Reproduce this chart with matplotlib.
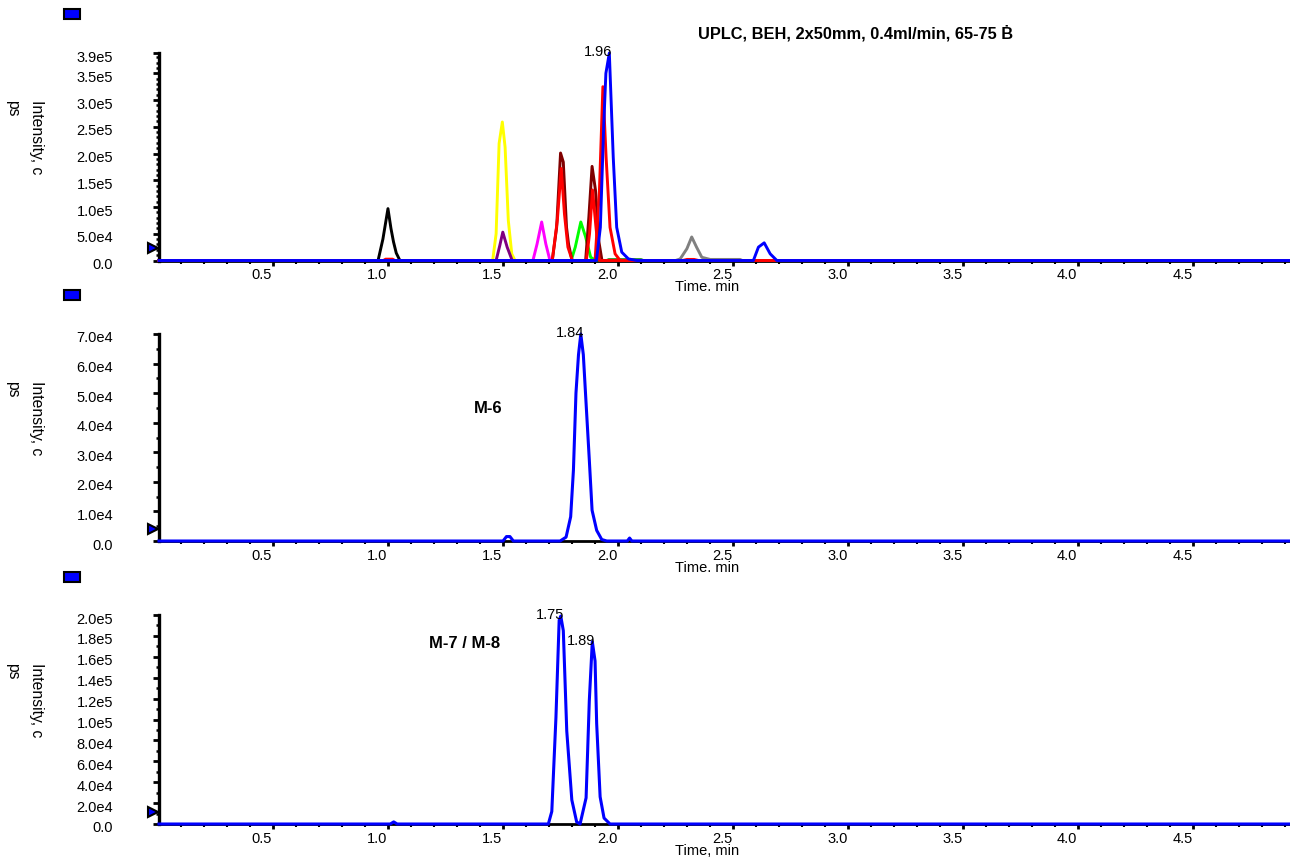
import numpy as np
import matplotlib
matplotlib.use("Agg")
import matplotlib.pyplot as plt
from matplotlib.patches import Rectangle
from matplotlib.ticker import MultipleLocator, FixedLocator, FuncFormatter
from matplotlib.transforms import ScaledTranslation, Bbox, TransformedBbox, blended_transform_factory

plt.rcParams["font.family"] = ["Liberation Sans", "DejaVu Sans"]

OUT_PNG = "out.png"

RUN_START = 0.005
RUN_END = 4.92

# --- panel 1: overlaid extracted ion chromatograms (time, min / intensity, cps)
BLACK_T = [0.957, 0.978, 1.000, 1.013, 1.024, 1.036, 1.052]
BLACK_I = [0, 4.0e4, 9.7e4, 6.0e4, 3.5e4, 1.4e4, 0]

YELLOW_T = [1.455, 1.470, 1.483, 1.497, 1.509, 1.523, 1.538, 1.552]
YELLOW_I = [0, 5.0e4, 2.19e5, 2.59e5, 2.12e5, 7.5e4, 1.25e4, 0]

PURPLE_T = [1.470, 1.486, 1.499, 1.518, 1.540]
PURPLE_I = [0, 2.8e4, 5.3e4, 2.5e4, 0]

MAGENTA_T = [1.630, 1.648, 1.668, 1.686, 1.704]
MAGENTA_I = [0, 3.1e4, 7.2e4, 3.1e4, 0]

MAROON_T = [1.714, 1.733, 1.750, 1.762, 1.776, 1.785, 1.800,
            1.859, 1.873, 1.887, 1.902, 1.916, 1.930]
MAROON_I = [0, 6.2e4, 2.01e5, 1.84e5, 6.2e4, 3.0e4, 0,
            0, 8.1e4, 1.76e5, 1.31e5, 3.7e4, 0]

RED_T = [0.980, 0.990, 1.020, 1.030,
         1.714, 1.736, 1.753, 1.767, 1.782, 1.801,
         1.862, 1.876, 1.889, 1.904, 1.919, 2.280, 2.300, 2.330, 2.350]
RED_I = [0, 2.5e3, 2.5e3, 0,
         0, 7.5e4, 1.72e5, 8.7e4, 2.5e4, 0,
         0, 5.0e4, 1.32e5, 6.2e4, 0, 0, 2.0e3, 2.0e3, 0]

RED_B_T = [1.900, 1.919, 1.934, 1.948, 1.965, 1.987, 2.009]
RED_B_I = [0, 1.31e5, 3.25e5, 1.93e5, 6.2e4, 1.25e4, 0]

GREEN_T = [1.796, 1.814, 1.838, 1.859, 1.881, 1.903]
GREEN_I = [0, 2.5e4, 7.2e4, 4.4e4, 6.0e3, 0]

DKGREEN_T = [1.950, 1.960, 2.100, 2.110]
DKGREEN_I = [0, 1.5e3, 1.5e3, 0]

GRAY_T = [2.250, 2.270, 2.299, 2.320, 2.341, 2.364, 2.400, 2.530, 2.540]
GRAY_I = [0, 3.0e3, 2.2e4, 4.4e4, 2.5e4, 6.0e3, 2.0e3, 2.0e3, 0]

BLUE_T = [1.906, 1.923, 1.938, 1.947, 1.962, 1.979, 1.994, 2.016, 2.045, 2.081,
          2.588, 2.610, 2.635, 2.661, 2.690]
BLUE_I = [0, 6.2e4, 2.56e5, 3.5e5, 3.88e5, 1.93e5, 6.2e4, 1.56e4, 3.0e3, 0,
          0, 2.5e4, 3.3e4, 1.25e4, 0]

# --- panel 2: M-6
M6_T = [1.500, 1.515, 1.530, 1.545,
        1.748, 1.774, 1.794, 1.806, 1.817, 1.828, 1.838, 1.849, 1.861, 1.875,
        1.887, 1.907, 1.929, 1.951, 2.040, 2.050, 2.060]
M6_I = [0, 1.5e3, 1.5e3, 0,
        0, 1.3e3, 8.2e3, 2.4e4, 5.0e4, 6.3e4, 7.0e4, 6.3e4, 4.65e4, 2.74e4,
        1.04e4, 3.6e3, 500, 0, 0, 1.0e3, 0]

# --- panel 3: M-7 / M-8
M78_T = [1.010, 1.025, 1.040,
         1.697, 1.712, 1.730, 1.744, 1.751, 1.762, 1.777, 1.799, 1.820, 1.835,
         1.839, 1.861, 1.875, 1.888, 1.900, 1.907, 1.922, 1.939, 1.965]
M78_I = [0, 2.0e3, 0,
         0, 1.2e4, 1.02e5, 1.95e5, 1.99e5, 1.85e5, 8.9e4, 2.3e4, 2.0e3, 0,
         4.0e3, 2.5e4, 1.18e5, 1.745e5, 1.56e5, 9.6e4, 2.6e4, 5.7e3, 0]

PANEL1_TRACES = [
    ("#808080", GRAY_T, GRAY_I),
    ("#000000", BLACK_T, BLACK_I),
    ("#FFFF00", YELLOW_T, YELLOW_I),
    ("#800080", PURPLE_T, PURPLE_I),
    ("#FF00FF", MAGENTA_T, MAGENTA_I),
    ("#00FF00", GREEN_T, GREEN_I),
    ("#008000", DKGREEN_T, DKGREEN_I),
    ("#800000", MAROON_T, MAROON_I),
    ("#FF0000", RED_T, RED_I),
    ("#FF0000", RED_B_T, RED_B_I),
    ("#0000FF", BLUE_T, BLUE_I),
]

Y_MAX = [3.88e5, 7.0e4, 2.0e5]
Y_MAJOR = [[0, 5e4, 1e5, 1.5e5, 2e5, 2.5e5, 3e5, 3.5e5, 3.88e5],
           [0, 1e4, 2e4, 3e4, 4e4, 5e4, 6e4, 7e4],
           [0, 2e4, 4e4, 6e4, 8e4, 1e5, 1.2e5, 1.4e5, 1.6e5, 1.8e5, 2e5]]
Y_MINOR = [1e4, 5e3, 1e4]

TITLE = "UPLC, BEH, 2x50mm, 0.4ml/min, 65-75 \u1e02"
PANEL_NAMES = [None, "M-6", "M-7 / M-8"]

W, H = 1290, 861
# axes boxes in pixels: left, top, right, bottom
AX_BOXES = [(159, 53, 1290, 260.5), (159, 334, 1290, 541), (159, 615, 1290, 824)]


def with_baseline(times, values):
    t = [RUN_START] + list(times) + [RUN_END]
    v = [0] + list(values) + [0]
    return np.array(t), np.array(v)


def sci_label(v, _pos=None):
    if v == 0:
        return "0.0"
    mant, exp = f"{v:.1e}".split("e")
    return f"{mant}e{int(exp)}"


def style_axes(ax, fig, ymax, majors, minor):
    ax.set_xlim(RUN_START, RUN_END)
    ax.set_ylim(0, ymax)
    for side in ("top", "right"):
        ax.spines[side].set_visible(False)
    ax.spines["left"].set_linewidth(2.4)
    ax.spines["bottom"].set_linewidth(2.0)

    ax.xaxis.set_major_locator(MultipleLocator(0.5))
    ax.xaxis.set_minor_locator(MultipleLocator(0.1))
    ax.xaxis.set_major_formatter(FuncFormatter(lambda v, p: f"{v:.1f}"))
    ax.yaxis.set_major_locator(FixedLocator(majors))
    ax.yaxis.set_minor_locator(MultipleLocator(minor))
    ax.yaxis.set_major_formatter(FuncFormatter(sci_label))

    ax.tick_params(axis="x", which="major", length=3.5, width=2, labelsize=10.5, pad=2)
    ax.tick_params(axis="x", which="minor", length=2, width=1.5)
    ax.tick_params(axis="y", which="major", length=4, width=2, labelsize=10.5, pad=29)
    ax.tick_params(axis="y", which="minor", length=2.5, width=1.8)

    shift_x = ScaledTranslation(-11 / 100, 0, fig.dpi_scale_trans)
    for lab in ax.get_xticklabels():
        lab.set_transform(lab.get_transform() + shift_x)
    shift_y = ScaledTranslation(0, -3 / 100, fig.dpi_scale_trans)
    for lab in ax.get_yticklabels():
        lab.set_transform(lab.get_transform() + shift_y)

    ax.set_xlabel("Time, min", fontsize=10.5)
    ax.xaxis.set_label_coords(0.4845, -0.095)

    ax.text(-0.1185, 0.772, "Intensity, c\nps", transform=ax.transAxes, rotation=-90,
            ha="center", va="top", multialignment="left", fontsize=11.3,
            linespacing=1.75)

    # threshold arrow at the left edge
    trans = blended_transform_factory(ax.transAxes, ax.transAxes)
    ax.plot([-0.0055], [0.058], marker=">", markersize=7, markerfacecolor="#0000FF",
            markeredgecolor="black", markeredgewidth=1.5, transform=trans,
            clip_on=False, zorder=6)


def label_peaks(ax, t, v, frac=0.5):
    for k in range(1, len(v) - 1):
        if v[k] >= v[k - 1] and v[k] > v[k + 1] and v[k] > frac * v.max():
            ax.annotate(f"{t[k]:.2f}", xy=(t[k], v[k]), xytext=(3, -3),
                        textcoords="offset pixels", ha="right", va="baseline",
                        fontsize=10.5, zorder=7)


fig = plt.figure(figsize=(W / 100, H / 100), dpi=100)
axes = []
for (l, t, r, b) in AX_BOXES:
    axes.append(fig.add_axes([l / W, 1 - b / H, (r - l) / W, (b - t) / H]))

for i, ax in enumerate(axes):
    style_axes(ax, fig, Y_MAX[i], Y_MAJOR[i], Y_MINOR[i])

# panel 1, blue drawn last so its baseline sits on top
for z, (color, times, values) in enumerate(PANEL1_TRACES):
    tt, vv = with_baseline(times, values)
    axes[0].plot(tt, vv, color=color, lw=2.1, clip_on=False, zorder=3 + z * 0.01)
bt, bv = with_baseline(BLUE_T, BLUE_I)
label_peaks(axes[0], bt, bv)

# panel 2
tt, vv = with_baseline(M6_T, M6_I)
axes[1].plot(tt, vv, color="#0000FF", lw=2.2, clip_on=False, zorder=3)
label_peaks(axes[1], tt, vv)

# panel 3
tt, vv = with_baseline(M78_T, M78_I)
axes[2].plot(tt, vv, color="#0000FF", lw=2.2, clip_on=False, zorder=3)
label_peaks(axes[2], tt, vv)

axes[1].text(0.291, 0.642, PANEL_NAMES[1], transform=axes[1].transAxes,
             ha="center", va="center", fontsize=12, fontweight="bold")
axes[2].text(0.2706, 0.866, PANEL_NAMES[2], transform=axes[2].transAxes,
             ha="center", va="center", fontsize=12, fontweight="bold")

fig.text(856 / W, 1 - 33 / H, TITLE, ha="center", va="center",
         fontsize=11.8, fontweight="bold")

# the upper two time labels are cut off by the next pane
for ax, cut in ((axes[0], 291), (axes[1], 572)):
    lab = ax.xaxis.label
    lab.set_clip_box(TransformedBbox(Bbox([[0, 1 - cut / H], [1, 1]]), fig.transFigure))
    lab.set_clip_on(True)

# small trace-colour swatches above each pane
for top in (9, 290, 572):
    fig.patches.append(Rectangle((64 / W, 1 - (top + 10) / H), 16 / W, 10 / H,
                                 transform=fig.transFigure, facecolor="#0000FF",
                                 edgecolor="black", linewidth=1.5))

fig.savefig(OUT_PNG, dpi=100)
plt.close(fig)
